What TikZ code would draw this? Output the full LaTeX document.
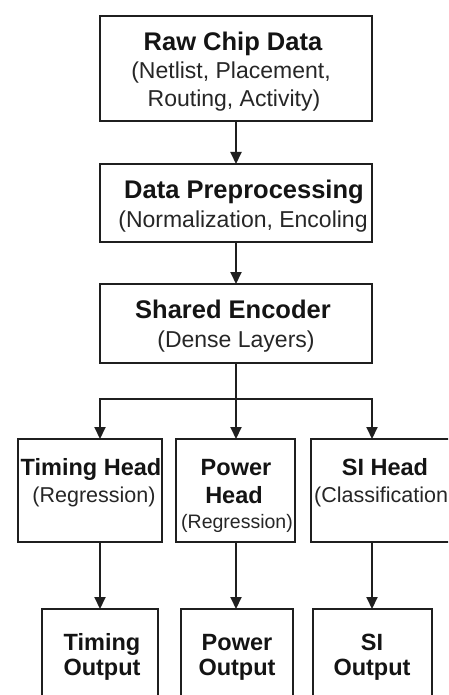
\documentclass[tikz,border=0pt]{standalone}
\usepackage{fontspec}
\setmainfont{Liberation Sans}
\usetikzlibrary{arrows.meta}
\begin{document}
\begin{tikzpicture}[x=1pt,y=-1pt,
  box/.style={draw=black!88,line width=2pt,fill=white,inner sep=0pt,outer sep=0pt},
  conn/.style={draw=black!88,line width=2pt},
  arr/.style={conn,-{Triangle[length=12pt,width=11pt]}},
  ttl/.style={anchor=base,inner sep=0pt,font=\fontsize{25.5}{28}\selectfont\bfseries,text=black!92},
  htl/.style={anchor=base,inner sep=0pt,font=\fontsize{23.5}{26}\selectfont\bfseries,text=black!92},
  sub/.style={anchor=base,inner sep=0pt,font=\fontsize{23}{26}\selectfont,text=black!85},
  hsub/.style={anchor=base,inner sep=0pt,font=\fontsize{21.5}{24}\selectfont,text=black!85},
  ssub/.style={anchor=base,inner sep=0pt,font=\fontsize{19.5}{22}\selectfont,text=black!85}]
\useasboundingbox (0,0) rectangle (448,695);
\clip (0,0) rectangle (448,695);
\fill[white] (0,0) rectangle (448,695);
% boxes
\node[box,minimum width=272pt,minimum height=105pt] (raw) at (236,68.5) {};
\node[box,minimum width=272pt,minimum height=78pt] (pre) at (236,203) {};
\node[box,minimum width=272pt,minimum height=79pt] (enc) at (236,323.5) {};
\node[box,minimum width=144pt,minimum height=103pt] (th) at (90,490.5) {};
\node[box,minimum width=119pt,minimum height=103pt] (ph) at (235.5,490.5) {};
\node[box,minimum width=148pt,minimum height=103pt] (sh) at (385,490.5) {};
\node[box,minimum width=116pt,minimum height=111pt] (to) at (100,664.5) {};
\node[box,minimum width=112pt,minimum height=111pt] (po) at (237,664.5) {};
\node[box,minimum width=119pt,minimum height=111pt] (so) at (372.5,664.5) {};
% texts
\node[ttl] (t1) at (233,51) {Raw Chip Data};
\node[sub] (t1a) at (231,79) {(Netlist, Placement,};
\node[sub] (t1b) at (234,107) {Routing, Activity)};
\node[ttl] (t2) at (244,198) {Data Preprocessing};
\node[sub] (t2a) at (243,227) {(Normalization, Encoling};
\node[ttl] (t3) at (233,318) {Shared Encoder};
\node[sub] (t3a) at (236,347) {(Dense Layers)};
\node[htl] (t4) at (91,475) {Timing Head};
\node[hsub] (t4a) at (94,502) {(Regression)};
\node[htl] (t5) at (236,475) {Power};
\node[htl] (t5a) at (234,503) {Head};
\node[ssub] (t5b) at (237,528) {(Regression)};
\node[htl] (t6) at (385,475) {SI Head};
\node[hsub,anchor=base west] (t6a) at (314,502) {(Classification};
\node[htl] (t7) at (102,650) {Timing};
\node[htl] (t7a) at (102,675) {Output};
\node[htl] (t8) at (237,650) {Power};
\node[htl] (t8a) at (237,675) {Output};
\node[htl] (t9) at (372,650) {SI};
\node[htl] (t9a) at (372,675) {Output};
% connectors
\coordinate (bl) at (100,399);
\coordinate (bm) at (236,399);
\coordinate (br) at (372,399);
\draw[arr] (raw.south) -- (pre.north);
\draw[arr] (pre.south) -- (enc.north);
\draw[conn] (enc.south) -- (bm);
\draw[conn,line cap=rect] (bl) -- (br);
\draw[arr] (bl) -- (bl |- th.north);
\draw[arr] (bm) -- (bm |- ph.north);
\draw[arr] (br) -- (br |- sh.north);
\draw[arr] (th.south -| bl) -- (to.north -| bl);
\draw[arr] (ph.south -| bm) -- (po.north -| bm);
\draw[arr] (sh.south -| br) -- (so.north -| br);
\end{tikzpicture}
\end{document}
